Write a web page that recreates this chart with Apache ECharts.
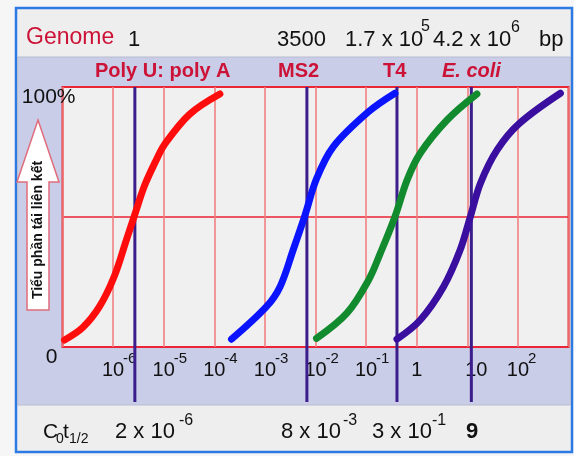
<!DOCTYPE html>
<html>
<head>
<meta charset="utf-8">
<script src="https://cdn.jsdelivr.net/npm/echarts@6/dist/echarts.min.js"></script>
<style>
html,body{margin:0;padding:0;background:#f6f6f6;}
#chart{width:574px;height:456px;}
</style>
</head>
<body>
<div id="chart"></div>
<script>
// ---- data (x in log10 units of C0t) ----
const xTickValues = [-6, -5, -4, -3, -2, -1, 0, 1, 2];
const xTickBase   = ['10', '10', '10', '10', '10', '10', '1', '10', '10'];
const xTickExp    = ['-6', '-5', '-4', '-3', '-2', '-1', '', '', '2'];
const yTickValues = [0, 100];
const yTickText   = ['0', '100%'];

const seriesNames = ['Poly U: poly A', 'MS2', 'T4', 'E. coli'];
const polyX = [-6.96, -6.60, -6.27, -5.98, -5.74, -5.57, -5.38, -5.17, -4.98, -4.49, -3.89];
const polyY = [2.7, 7.5, 15.5, 27, 41, 51, 62, 71, 78, 89.5, 97.3];
const ms2X  = [-3.66, -2.97, -2.70, -2.44, -2.21, -1.98, -1.65, -0.95, -0.43];
const ms2Y  = [3.0, 15.5, 23.2, 37.4, 50.5, 64.7, 77, 90.5, 97.6];
const t4X   = [-1.98, -1.38, -0.95, -0.72, -0.43, -0.19, 0.07, 0.60, 1.19];
const t4Y   = [3.3, 13, 25.8, 36, 50.1, 64.2, 74.5, 87.3, 97.3];
const ecoliX = [-0.39, 0.07, 0.53, 0.86, 1.06, 1.26, 1.59, 2.03, 2.84];
const ecoliY = [3.0, 10.4, 23.2, 37.4, 50.1, 63, 75.8, 86, 97.6];
const halfX = [-5.57, -2.17, -0.39, 1.08]; // C0t1/2 marker positions

const genomeTexts = ['1', '3500', '1.7 x 10', '5', '4.2 x 10', '6', 'bp'];
const cotTexts = ['2 x 10', '-6', '8 x 10', '-3', '3 x 10', '-1', '9'];
const yTitle = 'Tiểu phần tái liên kết';

const FF = '"Liberation Sans", Arial, sans-serif';
const pair = (xs, ys) => xs.map((x, i) => [x, ys[i]]);

const chart = echarts.init(document.getElementById('chart'), null, {renderer: 'canvas'});

function txt(text, x, y, size, opts) {
  opts = opts || {};
  return {
    type: 'text', x: x, y: y, z: 100, rotation: opts.rotation || 0,
    style: {
      text: text, fill: opts.color || '#111',
      font: (opts.italic ? 'italic ' : '') + (opts.bold ? 'bold ' : '') + size + 'px ' + FF,
      align: opts.align || 'left', verticalAlign: 'middle'
    }
  };
}

const red = '#cc1236';
const graphics = [
  // frame and bands
  {type: 'rect', z: -10, shape: {x: 16, y: 8, width: 556, height: 444}, style: {fill: '#eeeeee', stroke: '#2c7be5', lineWidth: 2.5}},
  {type: 'rect', z: -9, shape: {x: 17.5, y: 57, width: 553, height: 348}, style: {fill: '#c9cde8', stroke: '#b8bccf', lineWidth: 1}},
  // y title arrow
  {type: 'polygon', z: 50, shape: {points: [[38, 120], [59, 182], [49, 182], [49, 310], [27, 310], [27, 182], [17, 182]]},
   style: {fill: '#ffffff', stroke: '#e06c7c', lineWidth: 1.5}},
  txt(yTitle, 38, 230, 14, {bold: true, align: 'center', rotation: Math.PI / 2}),
  // header row
  txt('Genome', 26, 38, 23, {color: red}),
  txt(genomeTexts[0], 128, 40, 22),
  txt(genomeTexts[1], 277, 40, 22),
  txt(genomeTexts[2], 345, 40, 22),
  txt(genomeTexts[3], 421, 27, 16),
  txt(genomeTexts[4], 433, 40, 22),
  txt(genomeTexts[5], 511, 28, 16),
  txt(genomeTexts[6], 539, 40, 22),
  // series labels
  txt(seriesNames[0], 95, 71, 20, {color: red, bold: true}),
  txt(seriesNames[1], 278, 71, 20, {color: red, bold: true}),
  txt(seriesNames[2], 383, 71, 20, {color: red, bold: true}),
  txt(seriesNames[3], 442, 71, 20, {color: red, bold: true, italic: true}),
  // bottom row
  txt('C', 43, 432, 21),
  txt('0', 56, 439, 14),
  txt('t', 63, 432, 21),
  txt('1/2', 69, 439, 14),
  txt(cotTexts[0], 115, 432, 22),
  txt(cotTexts[1], 179, 421, 16),
  txt(cotTexts[2], 281, 432, 22),
  txt(cotTexts[3], 343, 421, 16),
  txt(cotTexts[4], 372, 432, 22),
  txt(cotTexts[5], 432, 421, 16),
  txt(cotTexts[6], 466, 432, 22, {bold: true})
];

function curve(name, xs, ys, color) {
  return {
    name: name, type: 'line', data: pair(xs, ys), smooth: 0.35, showSymbol: false, z: 5,
    lineStyle: {color: color, width: 7, cap: 'round', join: 'round'}
  };
}

const option = {
  animation: false,
  backgroundColor: 'transparent',
  graphic: graphics,
  grid: {left: 62.5, top: 87, width: 506, height: 260, show: true, backgroundColor: '#f0f0f0',
         borderColor: '#e0303e', borderWidth: 2, containLabel: false},
  xAxis: [{
    type: 'value', min: -7, max: 3, interval: 1,
    axisLine: {show: false, onZero: false}, axisTick: {show: false},
    splitLine: {show: true, lineStyle: {color: '#f27a7a', width: 1.5}},
    axisLabel: {
      showMinLabel: false, showMaxLabel: false, margin: 13, color: '#111', fontSize: 20, fontFamily: FF,
      formatter: v => { const i = xTickValues.indexOf(v); if (i < 0) return '';
        return xTickBase[i] === '10' && xTickExp[i] === '' ? '{p|}' + xTickBase[i] : xTickBase[i]; },
      rich: {p: {width: 18, fontSize: 20}}
    }
  }, {
    type: 'value', min: -7, max: 3, interval: 1, position: 'bottom',
    axisLine: {show: false, onZero: false}, axisTick: {show: false}, splitLine: {show: false},
    axisLabel: {
      showMinLabel: false, showMaxLabel: false, margin: 4, color: '#111', fontSize: 15, fontFamily: FF,
      align: 'left', padding: [0, 0, 0, 10],
      formatter: v => { const i = xTickValues.indexOf(v); return i < 0 ? '' : xTickExp[i]; }
    }
  }],
  yAxis: {
    type: 'value', min: 0, max: 100, interval: 50,
    axisLine: {show: false}, axisTick: {show: false},
    splitLine: {show: true, lineStyle: {color: '#ee2233', width: 1.5, opacity: 1}},
    axisLabel: {
      margin: -13, align: 'right', verticalAlign: 'top', color: '#111', fontSize: 21, fontFamily: FF,
      formatter: v => { const i = yTickValues.indexOf(v); if (i < 0) return '';
        return v === 0 ? '{z|' + yTickText[i] + '}' : yTickText[i]; },
      rich: {z: {fontSize: 21, fontFamily: FF, color: '#111', padding: [0, 18, 0, 0]}}
    }
  },
  series: [
    {
      type: 'custom', name: 'C0t1/2', z: 3, clip: false,
      data: halfX.map(x => [x, 0]),
      encode: {x: 0, y: 1},
      renderItem: (params, api) => {
        const top = api.coord([api.value(0), 100]);
        const bot = api.coord([api.value(0), 0]);
        return {type: 'line', shape: {x1: top[0], y1: top[1], x2: bot[0], y2: bot[1] + 55},
                style: {stroke: '#3b1e8c', lineWidth: 3}};
      }
    },
    curve(seriesNames[0], polyX, polyY, '#ff0d0d'),
    curve(seriesNames[1], ms2X, ms2Y, '#0a14ff'),
    curve(seriesNames[2], t4X, t4Y, '#128a2e'),
    curve(seriesNames[3], ecoliX, ecoliY, '#3a0fa0')
  ]
};
chart.setOption(option);
</script>
</body>
</html>
